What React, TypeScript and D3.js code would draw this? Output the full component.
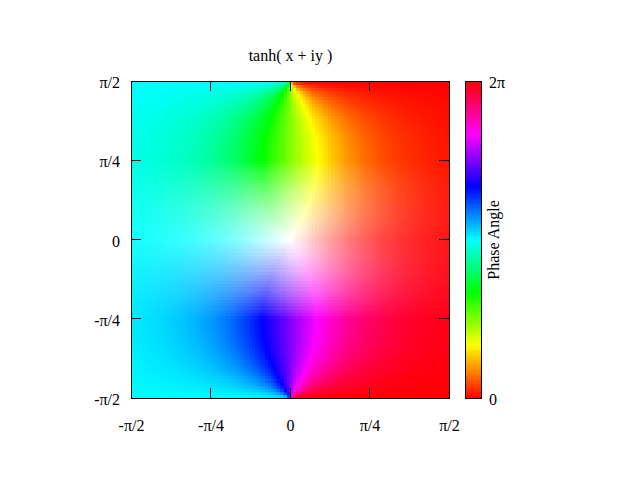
import React from "react";
import * as d3 from "d3";

const xTickValues = [-Math.PI / 2, -Math.PI / 4, 0, Math.PI / 4, Math.PI / 2];
const yTickValues = [-Math.PI / 2, -Math.PI / 4, 0, Math.PI / 4, Math.PI / 2];
const tickLabels = ["-π/2", "-π/4", "0", "π/4", "π/2"];
const barTickValues = [0, 2 * Math.PI];
const barTickLabels = ["0", "2π"];
const title = "tanh( x + iy )";
const barTitle = "Phase Angle";
const samples = 100;
const paletteSteps = 128;

// NOTE: the field is computed from the function named in the chart's title,
// tanh(x+iy), because ~10,000 cell colours cannot be read individually by eye.
function tanhComplex(x: number, y: number): [number, number] {
  const d = Math.cosh(2 * x) + Math.cos(2 * y);
  return [Math.sinh(2 * x) / d, Math.sin(2 * y) / d];
}

function hsvColor(h: number, s: number, v: number): string {
  const i = Math.floor(h * 6);
  const f = h * 6 - i;
  const p = v * (1 - s), q = v * (1 - f * s), t = v * (1 - (1 - f) * s);
  const [r, g, b] = [[v, t, p], [q, v, p], [p, v, t], [p, q, v], [t, p, v], [v, p, q]][((i % 6) + 6) % 6];
  return d3.rgb(r * 255, g * 255, b * 255).formatHex();
}

const x = d3.scaleLinear().domain([-Math.PI / 2, Math.PI / 2]).range([131, 449]);
const y = d3.scaleLinear().domain([-Math.PI / 2, Math.PI / 2]).range([398, 81]);
const barY = d3.scaleLinear().domain([0, 2 * Math.PI]).range([398, 81]);
const barLeft = 465, barRight = 481;
const font = "'Liberation Serif', serif";
const fs = 16;

const sampleCenters = d3.range(samples).map((i) => -Math.PI / 2 + (i + 0.5) * Math.PI / samples);
const cellW = Math.abs(x(Math.PI / samples) - x(0));
const cellH = Math.abs(y(Math.PI / samples) - y(0));

export default function App() {
  const cells: React.ReactNode[] = [];
  sampleCenters.forEach((cx, i) => {
    sampleCenters.forEach((cy, j) => {
      const [re, im] = tanhComplex(cx, cy);
      const hue = (Math.PI + Math.atan2(-im, -re)) / (2 * Math.PI);
      const sat = Math.min(1, Math.hypot(re, im));
      cells.push(
        <rect key={`${i}-${j}`} x={x(cx) - cellW / 2} y={y(cy) - cellH / 2}
          width={cellW + 0.4} height={cellH + 0.4} fill={hsvColor(hue, sat, 1)} />
      );
    });
  });
  const palette = d3.range(paletteSteps).map((k) => {
    const lo = (k / paletteSteps) * 2 * Math.PI;
    const hi = ((k + 1) / paletteSteps) * 2 * Math.PI;
    return (
      <rect key={k} x={barLeft} y={barY(hi)} width={barRight - barLeft}
        height={barY(lo) - barY(hi) + 0.4} fill={hsvColor((k + 0.5) / paletteSteps, 1, 1)} />
    );
  });
  const tick = 10;
  const px = (v: number) => Math.floor(v) + 0.5;
  return (
    <svg width={640} height={480} style={{ position: "absolute", left: 0, top: 0, background: "#fff" }}
      fontFamily={font} fontSize={fs} fill="#000">
      <g shapeRendering="crispEdges">
        {cells}
        {palette}
      </g>
      <g stroke="#000" strokeWidth={1} shapeRendering="crispEdges" fill="none">
        {xTickValues.map((v, i) => (
          <g key={i}>
            <line x1={px(x(v))} x2={px(x(v))} y1={398} y2={398 - tick} />
            <line x1={px(x(v))} x2={px(x(v))} y1={81} y2={81 + tick} />
          </g>
        ))}
        {yTickValues.map((v, i) => (
          <g key={i}>
            <line y1={px(y(v))} y2={px(y(v))} x1={131} x2={131 + tick} />
            <line y1={px(y(v))} y2={px(y(v))} x1={449} x2={449 - tick} />
          </g>
        ))}
        <rect x={131.5} y={81.5} width={318} height={317} />
        <rect x={465.5} y={81.5} width={16} height={317} />
      </g>
      <text x={290.5} y={61} textAnchor="middle">{title}</text>
      {xTickValues.map((v, i) => (
        <text key={i} x={x(v) + 0.5} y={431} textAnchor="middle">{tickLabels[i]}</text>
      ))}
      {yTickValues.map((v, i) => (
        <text key={i} x={120} y={y(v) + 7} textAnchor="end">{tickLabels[i]}</text>
      ))}
      {barTickValues.map((v, i) => (
        <text key={i} x={489} y={barY(v) + 7}>{barTickLabels[i]}</text>
      ))}
      <text transform="translate(499,240) rotate(-90)" textAnchor="middle">{barTitle}</text>
    </svg>
  );
}
